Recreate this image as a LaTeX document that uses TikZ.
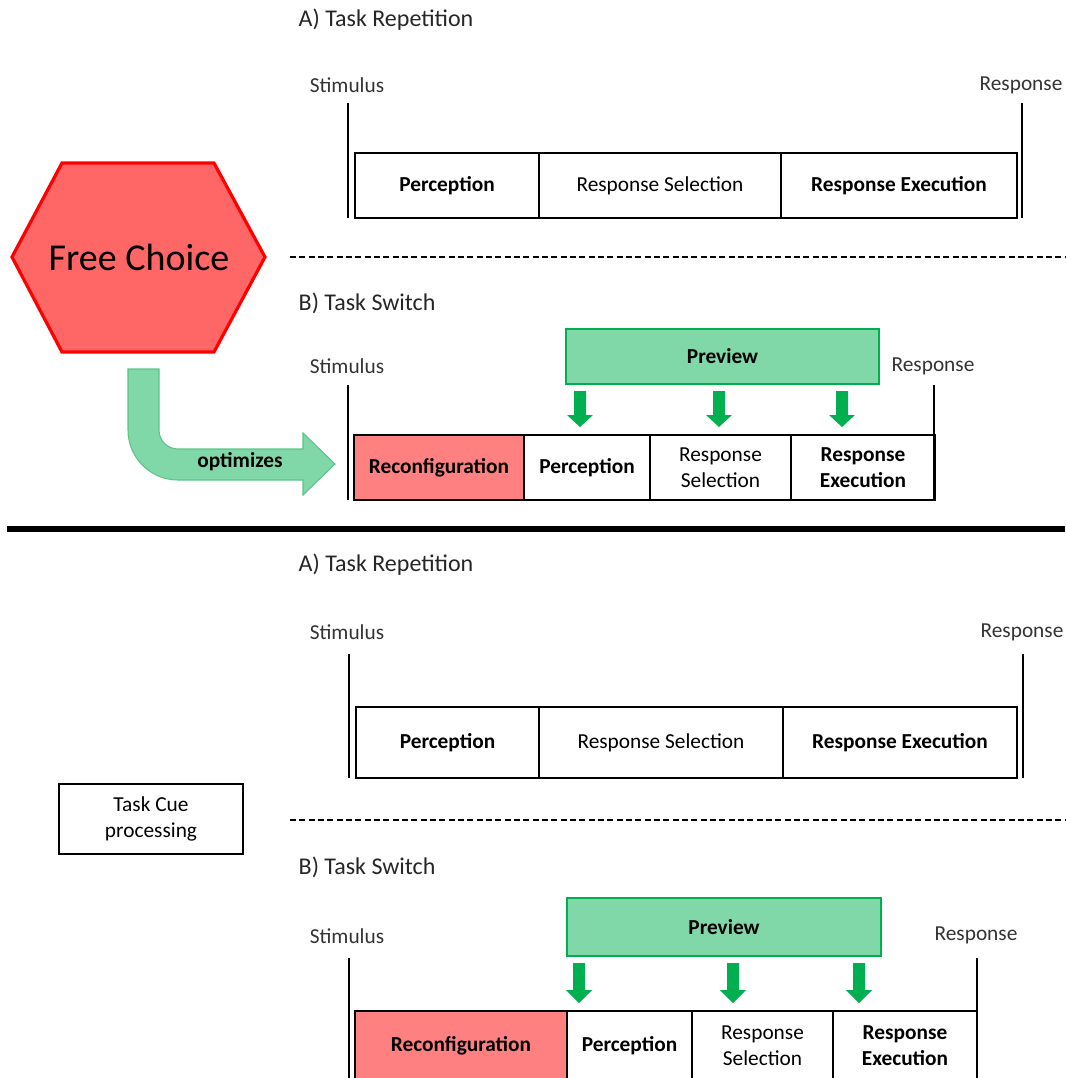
\documentclass[tikz,border=0pt]{standalone}
\usepackage{fontspec}
\setmainfont{Carlito}
\usetikzlibrary{positioning}

\definecolor{choicered}{HTML}{FF6666}
\definecolor{reconfred}{HTML}{FF8080}
\definecolor{prevfill}{HTML}{80D8A8}
\definecolor{prevgreen}{HTML}{00B050}
\definecolor{optline}{HTML}{5CC489}

\tikzset{
  stage/.style={draw, line width=2.2pt, inner sep=0pt, outer sep=0pt, align=center,
    font=\fontsize{16}{19.5}\selectfont},
  stagebf/.style={stage, font=\fontsize{16}{19.5}\selectfont\bfseries},
  reconf/.style={stagebf, fill=reconfred},
  preview/.style={draw=prevgreen, fill=prevfill, line width=2pt, inner sep=0pt,
    font=\fontsize{16}{19.5}\selectfont\bfseries},
  title/.style={anchor=west, text=black!85, font=\fontsize{18}{22}\selectfont},
  timelabel/.style={text=black!80, font=\fontsize{16}{19.5}\selectfont},
  tline/.style={line width=2.2pt},
  downarrow/.style={fill=prevgreen}
}

\begin{document}
\begin{tikzpicture}[x=0.75pt, y=-0.75pt]
    \useasboundingbox (0,0) rectangle (1065,1078);

    % Free choice hexagon
    \draw[line width=2.4pt, draw=red, fill=choicered]
        (12,257) -- (62,163) -- (214,163) -- (265,257) -- (214,352) -- (62,352) -- cycle;
    \node[font=\fontsize{28.5}{34}\selectfont] (choice) at (139,257) {Free Choice};

    % ---------- upper part, A) Task Repetition ----------
    \node[title] (titA1) at (294,20) {A) Task Repetition};
    \node[stagebf, minimum width=184*0.75pt, minimum height=65*0.75pt, anchor=north west]
        (percA1) at (355,153) {Perception};
    \node[stage, minimum width=242*0.75pt, minimum height=65*0.75pt, right=0pt of percA1]
        (selA1) {Response Selection};
    \node[stagebf, minimum width=236*0.75pt, minimum height=65*0.75pt, right=0pt of selA1]
        (exeA1) {Response Execution};
    \coordinate (startA1) at (348,103);
    \coordinate (endA1) at (1022,103);
    \draw[tline] (startA1) -- (startA1 |- percA1.south);
    \draw[tline] (endA1) -- (endA1 |- exeA1.south);
    \node[timelabel] (stimA1) at (347,85) {Stimulus};
    \node[timelabel] (respA1) at (1021,85) {Response};

    \draw[line width=1.1pt, dash pattern=on 4.5pt off 2.5pt] (290,257) -- (1065,257);

    % ---------- upper part, B) Task Switch ----------
    \node[title] (titB1) at (294,303) {B) Task Switch};
    \node[preview, minimum width=313*0.75pt, minimum height=55*0.75pt]
        (prevB1) at (722.5,356.5) {Preview};
    \node[reconf, minimum width=170*0.75pt, minimum height=65*0.75pt, anchor=north west]
        (recB1) at (354,435) {Reconfiguration};
    \node[stagebf, minimum width=126*0.75pt, minimum height=65*0.75pt, right=0pt of recB1]
        (percB1) {Perception};
    \node[stage, minimum width=141*0.75pt, minimum height=65*0.75pt, right=0pt of percB1]
        (selB1) {Response\\Selection};
    \node[stagebf, minimum width=144*0.75pt, minimum height=65*0.75pt, right=0pt of selB1]
        (exeB1) {Response\\Execution};
    \coordinate (startB1) at (348,385);
    \coordinate (endB1) at (934,385);
    \draw[tline] (startB1) -- (startB1 |- recB1.south);
    \draw[tline] (endB1) -- (endB1 |- exeB1.south);
    \node[timelabel] (stimB1) at (347,366) {Stimulus};
    \node[timelabel] (respB1) at (933,366) {Response};
    \foreach \ax in {580,719,842}
        \fill[downarrow] ({\ax-6},391) -- ({\ax+6},391) -- ({\ax+6},415) -- ({\ax+13},415)
            -- (\ax,427) -- ({\ax-13},415) -- ({\ax-6},415) -- cycle;

    % optimizes arrow
    \draw[fill=prevfill, draw=optline, line width=0.8pt]
        (128,369) -- (159,369) -- (159,430)
        .. controls (159,440.5) and (167.5,449) .. (178,449)
        -- (303,449) -- (303,433) -- (335,464) -- (303,495) -- (303,480) -- (178,480)
        .. controls (150.4,480) and (128,457.6) .. (128,430) -- cycle;
    \node[font=\fontsize{16}{19.5}\selectfont\bfseries] (optim) at (240,462) {optimizes};

    % separator
    \draw[line width=4pt] (7,529) -- (1065,529);

    % ---------- lower part, A) Task Repetition ----------
    \node[title] (titA2) at (294,565) {A) Task Repetition};
    \node[stagebf, minimum width=183*0.75pt, minimum height=71*0.75pt, anchor=north west]
        (percA2) at (356,707) {Perception};
    \node[stage, minimum width=244*0.75pt, minimum height=71*0.75pt, right=0pt of percA2]
        (selA2) {Response Selection};
    \node[stagebf, minimum width=234*0.75pt, minimum height=71*0.75pt, right=0pt of selA2]
        (exeA2) {Response Execution};
    \coordinate (startA2) at (349,654);
    \coordinate (endA2) at (1023,654);
    \draw[tline] (startA2) -- (startA2 |- percA2.south);
    \draw[tline] (endA2) -- (endA2 |- exeA2.south);
    \node[timelabel] (stimA2) at (347,632) {Stimulus};
    \node[timelabel] (respA2) at (1022,632) {Response};

    % task cue
    \node[stage, minimum width=184*0.75pt, minimum height=70*0.75pt]
        (cue) at (151,819) {Task Cue\\processing};

    \draw[line width=1.1pt, dash pattern=on 4.5pt off 2.5pt] (290,820) -- (1065,820);

    % ---------- lower part, B) Task Switch ----------
    \node[title] (titB2) at (294,867) {B) Task Switch};
    \node[preview, minimum width=314*0.75pt, minimum height=58*0.75pt]
        (prevB2) at (724,927) {Preview};
    \node[reconf, minimum width=212*0.75pt, minimum height=69*0.75pt, anchor=north west]
        (recB2) at (355,1011) {Reconfiguration};
    \node[stagebf, minimum width=125*0.75pt, minimum height=69*0.75pt, right=0pt of recB2]
        (percB2) {Perception};
    \node[stage, minimum width=141*0.75pt, minimum height=69*0.75pt, right=0pt of percB2]
        (selB2) {Response\\Selection};
    \node[stagebf, minimum width=144*0.75pt, minimum height=69*0.75pt, right=0pt of selB2]
        (exeB2) {Response\\Execution};
    \coordinate (startB2) at (349,958);
    \coordinate (endB2) at (977,958);
    \draw[tline] (startB2) -- (startB2 |- recB2.south);
    \draw[tline] (endB2) -- (endB2 |- exeB2.south);
    \node[timelabel] (stimB2) at (347,936) {Stimulus};
    \node[timelabel] (respB2) at (976,935) {Response};
    \foreach \ax in {579,733,859}
        \fill[downarrow] ({\ax-6},963) -- ({\ax+6},963) -- ({\ax+6},990) -- ({\ax+13},990)
            -- (\ax,1003) -- ({\ax-13},990) -- ({\ax-6},990) -- cycle;
\end{tikzpicture}
\end{document}
